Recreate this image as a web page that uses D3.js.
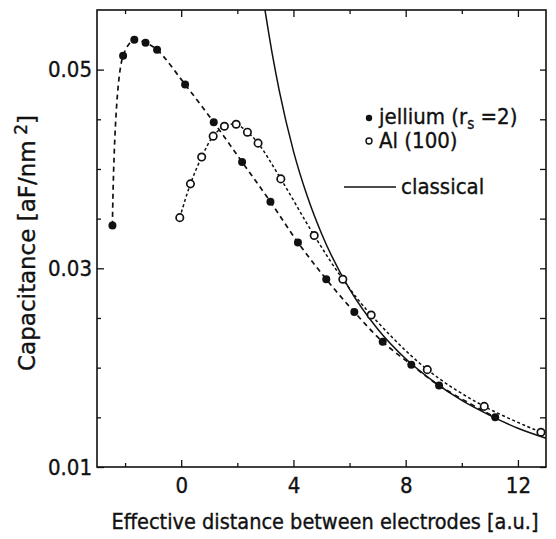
<!DOCTYPE html>
<html>
<head>
<meta charset="utf-8">
<script src="https://cdn.jsdelivr.net/npm/d3@7"></script>
<style>
  body { margin: 0; background: #fff; }
  text { font-family: "DejaVu Sans Condensed", "DejaVu Sans", sans-serif; fill: #111; stroke: #111; stroke-width: 0.35; }
</style>
</head>
<body>
<div id="chart"></div>
<script>
// values
const jelliumX = [-2.45, -2.07, -1.67, -1.27, -0.86, 0.14, 1.16, 2.17, 3.18, 4.16, 5.17, 6.17, 7.18, 8.2, 9.19, 11.19];
const jelliumC = [0.0343, 0.0514, 0.0530, 0.0527, 0.0520, 0.0485, 0.0447, 0.0407, 0.0367, 0.0326, 0.0289, 0.0256, 0.0226, 0.0203, 0.0182, 0.0150];

const alX = [-0.05, 0.33, 0.73, 1.14, 1.54, 1.96, 2.36, 2.74, 3.55, 4.74, 5.76, 6.77, 8.77, 10.8, 12.82];
const alC = [0.0351, 0.0385, 0.0412, 0.0433, 0.0443, 0.0445, 0.0437, 0.0426, 0.0390, 0.0333, 0.0289, 0.0253, 0.0198, 0.0161, 0.0135];

const classicalX = [2.98, 3.25, 3.5, 4, 4.5, 5, 6, 7, 8, 9, 10, 11, 12, 13];
const classicalC = [0.0561, 0.0515, 0.0478, 0.0418, 0.0372, 0.0335, 0.0279, 0.0239, 0.0209, 0.0186, 0.0167, 0.0152, 0.0139, 0.0129];

const xMajor = [0, 4, 8, 12];
const xMinor = [-2, 2, 6, 10];
const yMajor = [0.01, 0.03, 0.05];
const yMinor = [0.015, 0.02, 0.025, 0.035, 0.04, 0.045];

const margin = {top: 10, right: 10, bottom: 72, left: 97};
const width = 556, height = 539;

const x = d3.scaleLinear().domain([-3, 13]).range([margin.left, width - margin.right]);
const y = d3.scaleLinear().domain([0.01, 0.056]).range([height - margin.bottom, margin.top]);

const svg = d3.select("#chart").append("svg")
    .attr("width", width)
    .attr("height", height);

svg.append("clipPath").attr("id", "clip")
  .append("rect")
    .attr("x", margin.left).attr("y", margin.top)
    .attr("width", width - margin.left - margin.right)
    .attr("height", height - margin.top - margin.bottom);

// axes, ticks pointing inward
const x0 = margin.left, x1 = width - margin.right;
const y0 = height - margin.bottom, y1 = margin.top;

svg.append("g").attr("transform", `translate(0,${y0})`)
  .call(d3.axisBottom(x).tickValues(xMajor).tickSize(-7).tickPadding(10).tickFormat(d3.format("d")))
  .call(g => g.select(".domain").remove());
svg.append("g").attr("transform", `translate(0,${y0})`)
  .call(d3.axisBottom(x).tickValues(xMinor).tickSize(-4).tickFormat(""))
  .call(g => g.select(".domain").remove());
svg.append("g").attr("transform", `translate(0,${y1})`)
  .call(d3.axisTop(x).tickValues(xMajor).tickSize(-7).tickFormat(""))
  .call(g => g.select(".domain").remove());
svg.append("g").attr("transform", `translate(0,${y1})`)
  .call(d3.axisTop(x).tickValues(xMinor).tickSize(-4).tickFormat(""))
  .call(g => g.select(".domain").remove());

svg.append("g").attr("transform", `translate(${x0},0)`)
  .call(d3.axisLeft(y).tickValues(yMajor).tickSize(-7).tickPadding(5).tickFormat(d3.format(".2f")))
  .call(g => g.select(".domain").remove());
svg.append("g").attr("transform", `translate(${x0},0)`)
  .call(d3.axisLeft(y).tickValues(yMinor).tickSize(-4).tickFormat(""))
  .call(g => g.select(".domain").remove());
svg.append("g").attr("transform", `translate(${x1},0)`)
  .call(d3.axisRight(y).tickValues(yMajor.concat(yMinor)).tickSize(-6).tickFormat(""))
  .call(g => g.select(".domain").remove());

svg.selectAll(".tick line").attr("stroke", "#111").attr("stroke-width", 1.3);
svg.selectAll(".tick text").attr("font-size", 22).attr("fill", "#111")
   .style("font-family", '"DejaVu Sans Condensed", "DejaVu Sans", sans-serif');

svg.append("rect")
    .attr("x", x0).attr("y", y1)
    .attr("width", x1 - x0).attr("height", y0 - y1)
    .attr("fill", "none").attr("stroke", "#111").attr("stroke-width", 1.6);

// curves
const plot = svg.append("g").attr("clip-path", "url(#clip)");
const line = d3.line().x(d => x(d[0])).y(d => y(d[1])).curve(d3.curveCatmullRom);

const jellium = jelliumX.map((v, i) => [v, jelliumC[i]]);
const al = alX.map((v, i) => [v, alC[i]]);
const classical = classicalX.map((v, i) => [v, classicalC[i]]);

plot.append("path").datum(classical)
    .attr("fill", "none").attr("stroke", "#111").attr("stroke-width", 1.5)
    .attr("d", d3.line().x(d => x(d[0])).y(d => y(d[1])).curve(d3.curveMonotoneX));

plot.append("path").datum(jellium)
    .attr("fill", "none").attr("stroke", "#111").attr("stroke-width", 1.7)
    .attr("stroke-dasharray", "5,4")
    .attr("d", line);

plot.append("path").datum(al)
    .attr("fill", "none").attr("stroke", "#111").attr("stroke-width", 1.5)
    .attr("stroke-dasharray", "3,2.5")
    .attr("d", line);

plot.append("g").selectAll("circle").data(jellium).join("circle")
    .attr("cx", d => x(d[0])).attr("cy", d => y(d[1]))
    .attr("r", 4).attr("fill", "#111");

plot.append("g").selectAll("circle").data(al).join("circle")
    .attr("cx", d => x(d[0])).attr("cy", d => y(d[1]))
    .attr("r", 3.7).attr("fill", "#fff").attr("stroke", "#111").attr("stroke-width", 1.7);

// legend
const lg = svg.append("g").attr("font-size", 22);
lg.append("circle").attr("cx", 369).attr("cy", 118).attr("r", 3.2).attr("fill", "#111");
lg.append("text").attr("x", 379).attr("y", 124)
  .call(t => {
    t.append("tspan").text("jellium (r");
    t.append("tspan").attr("font-size", 15).attr("dy", 5).text("s");
    t.append("tspan").attr("dy", -5).text(" =2)");
  });
lg.append("circle").attr("cx", 369).attr("cy", 141).attr("r", 3)
  .attr("fill", "#fff").attr("stroke", "#111").attr("stroke-width", 1.4);
lg.append("text").attr("x", 379).attr("y", 148).text("Al (100)");
lg.append("line").attr("x1", 344).attr("x2", 396).attr("y1", 187).attr("y2", 187)
  .attr("stroke", "#111").attr("stroke-width", 1.5);
lg.append("text").attr("x", 401).attr("y", 194).text("classical");

// axis titles
svg.append("text")
    .attr("x", 325).attr("y", 529)
    .attr("text-anchor", "middle").attr("font-size", 21.5)
    .text("Effective distance between electrodes [a.u.]");

svg.append("text")
    .attr("transform", `translate(35,243) rotate(-90)`)
    .attr("text-anchor", "middle").attr("font-size", 23)
    .style("font-family", '"DejaVu Sans", sans-serif')
    .call(t => {
      t.append("tspan").text("Capacitance [aF/nm");
      t.append("tspan").attr("font-size", 17).attr("dy", -8).text(" 2");
      t.append("tspan").attr("dy", 8).text("]");
    });
</script>
</body>
</html>
